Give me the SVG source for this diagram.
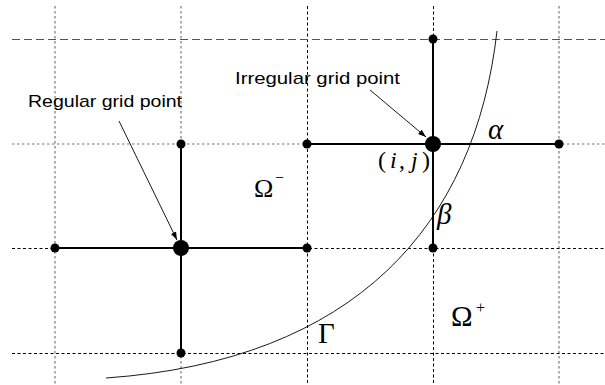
<svg xmlns="http://www.w3.org/2000/svg" width="605" height="385" viewBox="0 0 605 385">
<defs>
<style>
.gd{stroke:#777;stroke-width:1.2;stroke-dasharray:2.5,2.5;fill:none}
.bd{stroke:#000;stroke-width:1;stroke-dasharray:3,2.5;fill:none}
.ld{stroke:#555;stroke-width:1;stroke-dasharray:8,4;fill:none}
.solid{stroke:#000;stroke-width:2;fill:none}
.thin{stroke:#000;stroke-width:0.9;fill:none}
.dot{fill:#000}
.sans{font-family:"Liberation Sans",Arial,sans-serif;font-size:17px;fill:#000}
.math{font-family:"Liberation Serif","Times New Roman",serif;fill:#000}
.it{font-style:italic}
</style>
<marker id="ah" viewBox="0 0 10 10" refX="10" refY="5" markerWidth="8" markerHeight="8" markerUnits="userSpaceOnUse" orient="auto">
<path d="M0,1.5 L10,5 L0,8.5 z" fill="#000"/>
</marker>
</defs>
<g id="grid">
<line class="gd" x1="55" y1="6" x2="55" y2="385"/>
<line class="gd" x1="181" y1="6" x2="181" y2="385"/>
<line class="bd" x1="307.5" y1="6" x2="307.5" y2="385"/>
<line class="bd" x1="433.5" y1="6" x2="433.5" y2="385"/>
<line class="gd" x1="559" y1="6" x2="559" y2="385"/>
<line class="ld" x1="12" y1="39.5" x2="605" y2="39.5"/>
<line class="gd" x1="12" y1="144" x2="605" y2="144"/>
<line class="bd" x1="12" y1="248.5" x2="605" y2="248.5"/>
<line class="bd" x1="12" y1="353.5" x2="605" y2="353.5"/>
</g>
<g id="connectors">
<line class="solid" x1="181" y1="144" x2="181" y2="353"/>
<line class="solid" x1="55" y1="248" x2="307" y2="248"/>
<line class="solid" x1="307" y1="144" x2="559" y2="144"/>
<line class="solid" x1="433" y1="39" x2="433" y2="248"/>
<line class="thin" x1="119" y1="121" x2="177" y2="240" marker-end="url(#ah)"/>
<line class="thin" x1="370" y1="90" x2="426" y2="137" marker-end="url(#ah)"/>
</g>
<g id="interface-gamma">
<path class="thin" d="M106,378 C356,360.5 475,225 497,31"/>
</g>
<g id="nodes">
<circle class="dot" cx="181" cy="144" r="4.5"/>
<circle class="dot" cx="55" cy="248" r="4.5"/>
<circle class="dot" cx="307" cy="248" r="4.5"/>
<circle class="dot" cx="181" cy="353" r="4.5"/>
<circle class="dot" cx="307" cy="144" r="4.5"/>
<circle class="dot" cx="433" cy="39" r="4.5"/>
<circle class="dot" cx="559" cy="144" r="4.5"/>
<circle class="dot" cx="433" cy="248" r="4.5"/>
<circle id="regular-point" class="dot" cx="181" cy="248" r="8"/>
<circle id="irregular-point" class="dot" cx="433" cy="144" r="8"/>
</g>
<g id="labels">
<text class="sans" x="28" y="107" textLength="154" lengthAdjust="spacingAndGlyphs">Regular grid point</text>
<text class="sans" x="235" y="84" textLength="165" lengthAdjust="spacingAndGlyphs">Irregular grid point</text>
<text class="math" y="168" font-size="24"><tspan x="378">(</tspan><tspan class="it" x="390">i</tspan><tspan x="399">,</tspan><tspan class="it" x="411">j</tspan><tspan x="422">)</tspan></text>
<text class="math it" x="488" y="139" font-size="29">α</text>
<text class="math it" x="437" y="224" font-size="29">β</text>
<text class="math" x="254" y="197" font-size="26">Ω</text>
<text class="math" x="275" y="183" font-size="16">−</text>
<text class="math" x="451" y="326" font-size="29">Ω</text>
<text class="math" x="476" y="313" font-size="16">+</text>
<text class="math" x="318" y="343" font-size="29">Γ</text>
</g>
</svg>
